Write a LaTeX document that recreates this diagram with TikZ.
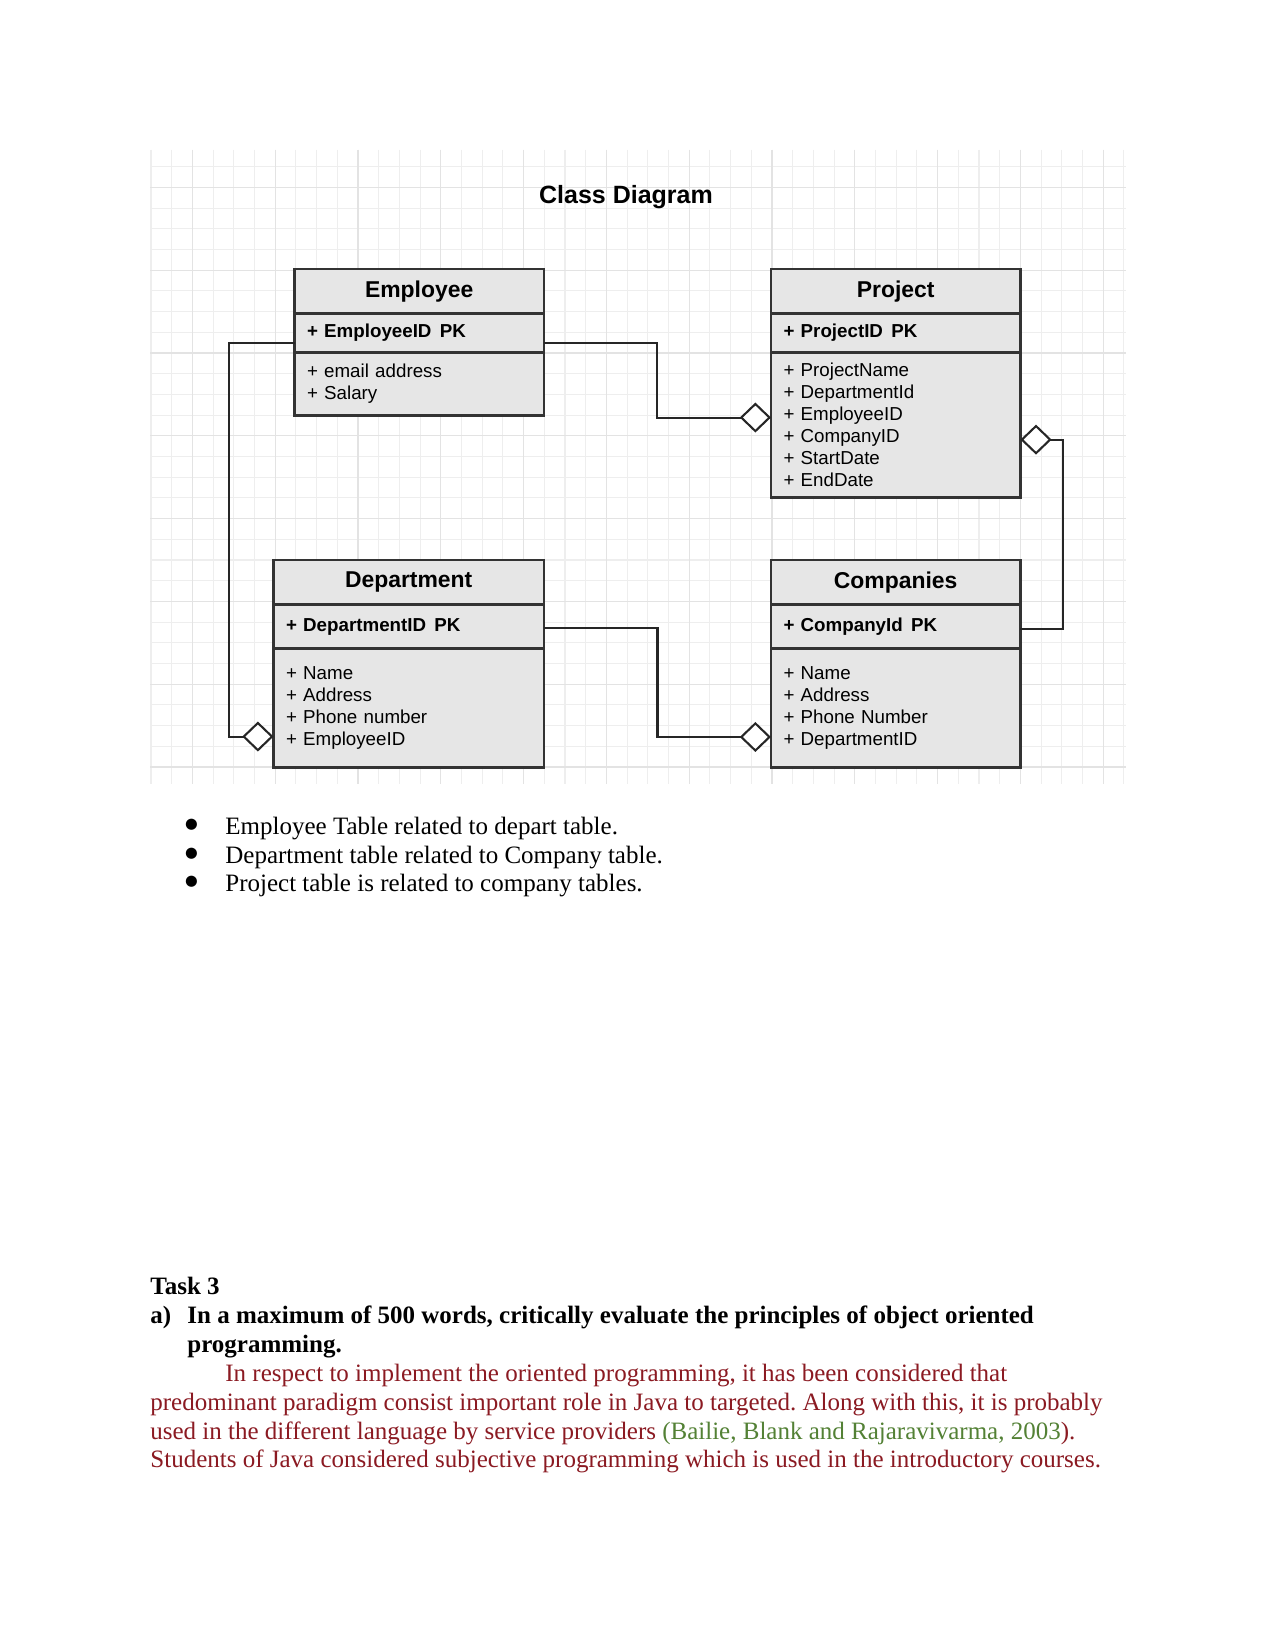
\documentclass[tikz,border=0pt]{standalone}
\usepackage{fontspec}
\setmainfont{Liberation Serif}
\newfontfamily\diagfont{Liberation Sans}
\newfontfamily\symfont{DejaVu Sans}
\usepackage{xcolor}
\usepackage{tikz}
\usetikzlibrary{
  arrows.meta,
  positioning,
  calc
}
\definecolor{boxFill}{HTML}{E6E6E6}
\definecolor{boxStroke}{HTML}{333333}
\definecolor{lineClr}{HTML}{262626}
\definecolor{gridMinor}{HTML}{EEEEEE}
\definecolor{gridMajor}{HTML}{E3E3E3}
\definecolor{paraRed}{HTML}{8B1A22}
\definecolor{citeGreen}{HTML}{538135}
\tikzset{
  base/.style={
    rectangle, draw=boxStroke, fill=boxFill, line width=1.2pt,
    inner xsep=6pt, inner ysep=0pt, outer sep=0pt
  },
  head nd/.style={
    base, text width=#1, align=center, minimum height=21.4pt,
    font=\diagfont\fontsize{11}{13}\selectfont\bfseries
  },
  pk nd/.style={
    base, text width=#1, align=left,
    font=\diagfont\fontsize{9}{10.6}\selectfont\bfseries
  },
  attr nd/.style={
    base, text width=#1, align=left,
    font=\diagfont\fontsize{9}{10.6}\selectfont
  },
  agg/.style={-{Diamond[fill=white,length=15pt,width=14.4pt]},
    line width=1pt, draw=lineClr},
  hv path/.style={
    to path={-| ($(\tikztostart)!.5!(\tikztotarget)$) |- (\tikztotarget)}
  },
  minor ln/.style={draw=gridMinor, line width=0.5pt},
  major ln/.style={draw=gridMajor, line width=0.6pt},
  ttl/.style={font=\diagfont\fontsize{12}{14}\selectfont\bfseries},
  txt/.style={anchor=base west, inner sep=0pt,
    font=\fontsize{12}{13.8}\selectfont},
  bul/.style={anchor=center, inner sep=0pt,
    font=\symfont\fontsize{7}{8}\selectfont},
  bold txt/.style={txt, font=\fontsize{12}{13.8}\selectfont\bfseries},
  red txt/.style={txt, text=paraRed}
}

\begin{document}
\frenchspacing
\begin{tikzpicture}[x=0.48pt, y=-0.48pt]
    \useasboundingbox[fill=white] (0,0) rectangle (1275,1650);

    % grid behind the diagram
    \foreach \i in {0,...,47} {
      \draw[minor ln] ({151+20.7*\i},150) -- ({151+20.7*\i},784);
    }
    \foreach \j in {0,...,29} {
      \draw[minor ln] (150,{166.7+20.7*\j}) -- (1126,{166.7+20.7*\j});
    }
    \foreach \i in {2,6,...,46} {
      \draw[major ln] ({151+20.7*\i},150) -- ({151+20.7*\i},784);
    }
    \foreach \j in {1,5,...,29} {
      \draw[major ln] (150,{166.7+20.7*\j}) -- (1126,{166.7+20.7*\j});
    }

    \node[ttl] (title) at (626,197) {Class Diagram};

    % Employee
    \node[head nd=107.7pt, anchor=north west] (eh) at (294.5,269) {Employee};
    \node[pk nd=107.7pt, minimum height=18.7pt, below=0pt of eh] (ek)
      {+ EmployeeID\hspace{4pt}PK};
    \node[attr nd=107.7pt, minimum height=30.3pt, below=0pt of ek] (ea)
      {+ email address\\+ Salary};

    % Project
    \node[head nd=107.7pt, anchor=north west] (ph) at (771,269) {Project};
    \node[pk nd=107.7pt, minimum height=18.7pt, below=0pt of ph] (pk)
      {+ ProjectID\hspace{4pt}PK};
    \node[attr nd=107.7pt, minimum height=69.6pt, below=0pt of pk] (pa)
      {+ ProjectName\\+ DepartmentId\\+ EmployeeID\\+ CompanyID\\
       + StartDate\\+ EndDate};

    % Department
    \node[head nd=117.8pt, anchor=north west] (dh) at (273.5,560) {Department};
    \node[pk nd=117.8pt, minimum height=21.1pt, below=0pt of dh] (dk)
      {+ DepartmentID\hspace{4pt}PK};
    \node[attr nd=117.8pt, minimum height=57.1pt, below=0pt of dk] (da)
      {+ Name\\+ Address\\+ Phone number\\+ EmployeeID};

    % Companies
    \node[head nd=107.7pt, anchor=north west] (ch) at (771,560) {Companies};
    \node[pk nd=107.7pt, minimum height=21.1pt, below=0pt of ch] (ck)
      {+ CompanyId\hspace{4pt}PK};
    \node[attr nd=107.7pt, minimum height=57.1pt, below=0pt of ck] (ca)
      {+ Name\\+ Address\\+ Phone Number\\+ DepartmentID};

    \draw[agg, hv path] ([yshift=-4.6pt]ek.east) to ([yshift=3.6pt]pa.west);
    \draw[agg] ([yshift=-4.6pt]ek.west) -- ++(-65.5,0)
      |- ([yshift=-13.7pt]da.west);
    \draw[agg, hv path] ([yshift=-0.7pt]dk.east) to ([yshift=-13.9pt]ca.west);
    \draw[agg] ([yshift=-1pt]ck.east) -- ++(43,0) |- ([yshift=-7pt]pa.east);

    % notes under the diagram
    \node[bul] (b1) at (191.5,825) {●};
    \node[txt] (l1) at (225,834) {Employee Table related to depart table.};
    \node[bul] (b2) at (191.5,854) {●};
    \node[txt] (l2) at (225,863) {Department table related to Company table.};
    \node[bul] (b3) at (191.5,882) {●};
    \node[txt] (l3) at (225,891) {Project table is related to company tables.};

    \node[bold txt] (task) at (150,1294) {Task 3};
    \node[bold txt] (qa) at (150,1323) {a)};
    \node[bold txt] (q1) at (187,1323)
      {In a maximum of 500 words, critically evaluate the principles of object oriented};
    \node[bold txt] (q2) at (187,1352) {programming.};

    \node[red txt] (p1) at (225,1381)
      {In respect to implement the oriented programming, it has been considered that};
    \node[red txt] (p2) at (150,1410)
      {predominant paradigm consist important role in Java to targeted. Along with this, it is probably};
    \node[red txt] (p3) at (150,1439)
      {used in the different language by service providers
       \textcolor{citeGreen}{(Bailie, Blank and Rajaravivarma, 2003}).};
    \node[red txt] (p4) at (150,1467)
      {Students of Java considered subjective programming which is used in the introductory courses.};

\end{tikzpicture}
\end{document}
